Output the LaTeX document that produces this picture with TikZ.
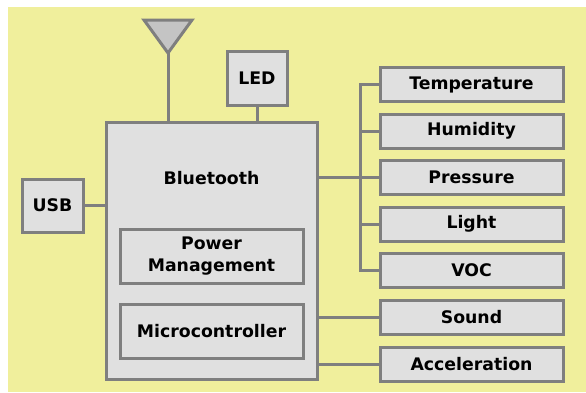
\documentclass[tikz,border=0pt]{standalone}
\usepackage{fontspec}
\setmainfont{DejaVu Sans}
\definecolor{bgyellow}{HTML}{F0EF9C}
\definecolor{boxfill}{HTML}{E0E0E0}
\definecolor{linegray}{HTML}{7F7F7F}
\definecolor{antfill}{HTML}{C4C4C4}
\begin{document}
\begin{tikzpicture}[x=1pt,y=-1pt,
  box/.style={draw=linegray, line width=3pt, fill=boxfill, inner sep=0pt,
    font=\bfseries\fontsize{17.3}{22}\selectfont, align=center},
  label/.style={inner sep=0pt, font=\bfseries\fontsize{17.3}{22}\selectfont, align=center},
  wire/.style={draw=linegray, line width=3pt},
  rbox/.style={box, minimum width=183pt, minimum height=34pt}]
\useasboundingbox (0,0) rectangle (586,392);
\fill[bgyellow] (8,7) rectangle (586,392);
% main board
\node[box, minimum width=211pt, minimum height=257pt] (main) at (211.5,250.5) {};
\node[label] (bt) at (211.5,178) {Bluetooth};
\node[box, minimum width=183pt, minimum height=54pt] (pm) at (211.5,256) {Power\\Management};
\node[box, minimum width=183pt, minimum height=54pt] (mc) at (211.5,331) {Microcontroller};
% peripherals
\node[box, minimum width=61pt, minimum height=53pt] (usb) at (52.5,205.5) {USB};
\node[box, minimum width=60pt, minimum height=54pt] (led) at (257,78) {LED};
% antenna
\coordinate (ant) at (168,53);
\filldraw[fill=antfill, draw=linegray, line width=3pt, line join=miter] (144,20) -- (192,20) -- (ant) -- cycle;
% sensors
\node[rbox] (temp) at (471.5,84.5) {Temperature};
\node[rbox] (hum) at (471.5,131) {Humidity};
\node[rbox] (pres) at (471.5,177) {Pressure};
\node[rbox] (light) at (471.5,224) {Light};
\node[rbox] (voc) at (471.5,270) {VOC};
\node[rbox] (sound) at (471.5,317) {Sound};
\node[rbox] (acc) at (471.5,364.5) {Acceleration};
\coordinate (bus) at (360,177);
% connectors
\draw[wire] (ant) -- (ant |- main.north);
\draw[wire] (led.south) -- (led.south |- main.north);
\draw[wire] (usb.east) -- (usb.east -| main.west);
\draw[wire] (temp.west) -| (bus) |- (voc.west);
\draw[wire] (hum.west) -- (hum.west -| bus);
\draw[wire] (light.west) -- (light.west -| bus);
\draw[wire] (main.east |- pres.west) -- (pres.west);
\draw[wire] (main.east |- sound.west) -- (sound.west);
\draw[wire] (main.east |- acc.west) -- (acc.west);
\end{tikzpicture}
\end{document}
